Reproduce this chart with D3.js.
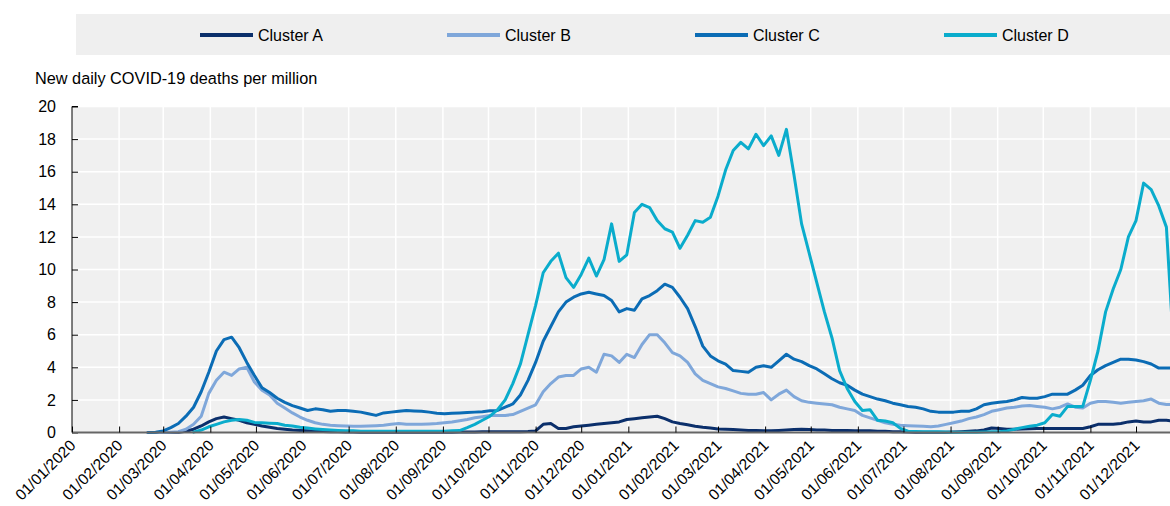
<!DOCTYPE html>
<html><head><meta charset="utf-8">
<script src="https://cdn.jsdelivr.net/npm/d3@7"></script>
<style>
body{margin:0;background:#fff;}
svg{display:block;font-family:"Liberation Sans", Arial, Helvetica, sans-serif;}
</style>
</head><body>
<svg id="chart" width="1170" height="506"></svg>
<script>
// ---------- DATA ----------
const seriesNames = ["Cluster A", "Cluster B", "Cluster C", "Cluster D"];
const startDate = "2020-02-20";   // first observation
const stepDays = 5;               // spacing of observations (days)

const clusterA = [0,0,0,0,0.02,0.08,0.2,0.4,0.65,0.85,0.95,0.85,0.75,0.6,0.5,0.4,0.32,0.25,0.2,0.15,
0.12,0.1,0.08,0.06,0.05,0.04,0.03,0.03,0.02,0.02,0.02,0.02,0.02,0.02,0.02,0.02,0.02,0.02,0.02,0.02,
0.02,0.03,0.03,0.03,0.04,0.04,0.05,0.05,0.05,0.05,0.06,0.1,0.5,0.55,0.25,0.25,0.35,0.4,0.45,0.5,
0.55,0.6,0.65,0.8,0.85,0.9,0.95,1.0,0.85,0.65,0.55,0.47,0.38,0.32,0.28,0.22,0.2,0.18,0.15,0.13,
0.12,0.1,0.1,0.12,0.15,0.18,0.2,0.18,0.15,0.15,0.13,0.12,0.12,0.1,0.1,0.1,0.08,0.07,0.05,0.04,
0.03,0.02,0.02,0.02,0.02,0.02,0.03,0.05,0.07,0.1,0.15,0.28,0.25,0.2,0.2,0.22,0.23,0.25,0.25,0.25,
0.25,0.25,0.25,0.25,0.35,0.5,0.5,0.5,0.55,0.65,0.7,0.65,0.65,0.75,0.75,0.7];

const clusterB = [0,0,0,0.02,0.05,0.2,0.5,1.0,2.4,3.2,3.7,3.5,3.9,4.0,3.1,2.6,2.3,1.8,1.5,1.2,
0.95,0.75,0.6,0.5,0.45,0.42,0.4,0.38,0.38,0.4,0.42,0.45,0.5,0.55,0.5,0.5,0.5,0.52,0.55,0.6,
0.65,0.72,0.8,0.9,0.97,1.05,1.05,1.05,1.1,1.3,1.5,1.7,2.5,3.0,3.4,3.5,3.5,3.9,4.0,3.7,
4.8,4.7,4.3,4.8,4.6,5.4,6.0,6.0,5.5,4.9,4.7,4.3,3.6,3.2,3.0,2.8,2.7,2.55,2.4,2.35,
2.35,2.45,2.0,2.35,2.6,2.2,1.95,1.85,1.8,1.75,1.7,1.55,1.45,1.35,1.05,0.9,0.75,0.6,0.5,0.45,
0.42,0.4,0.38,0.35,0.4,0.5,0.6,0.7,0.85,0.95,1.1,1.3,1.4,1.5,1.55,1.62,1.65,1.6,1.55,1.45,
1.55,1.75,1.55,1.5,1.8,1.9,1.9,1.85,1.8,1.85,1.9,1.95,2.05,1.8,1.72,1.7];

const clusterC = [0,0.02,0.1,0.3,0.55,1.0,1.55,2.5,3.7,5.0,5.7,5.85,5.2,4.3,3.5,2.75,2.45,2.1,1.85,1.65,
1.5,1.35,1.45,1.4,1.3,1.35,1.35,1.3,1.25,1.15,1.05,1.2,1.25,1.3,1.35,1.32,1.3,1.25,1.18,1.15,
1.18,1.2,1.22,1.25,1.28,1.33,1.35,1.55,1.75,2.3,3.2,4.3,5.6,6.5,7.4,8.0,8.3,8.5,8.6,8.5,
8.4,8.1,7.4,7.6,7.5,8.2,8.4,8.7,9.1,8.9,8.3,7.6,6.5,5.3,4.7,4.4,4.2,3.8,3.75,3.7,
4.0,4.1,4.0,4.4,4.8,4.5,4.35,4.1,3.9,3.6,3.3,3.05,2.9,2.6,2.35,2.2,2.05,1.95,1.8,1.7,
1.6,1.55,1.45,1.3,1.25,1.25,1.25,1.3,1.3,1.45,1.7,1.8,1.85,1.9,2.0,2.15,2.1,2.1,2.2,2.35,
2.35,2.35,2.6,2.9,3.5,3.85,4.1,4.3,4.5,4.5,4.45,4.35,4.2,3.95,3.95,3.95];

const clusterD = [null,null,null,null,null,null,0.02,0.15,0.35,0.5,0.65,0.75,0.8,0.75,0.62,0.6,0.57,0.55,0.45,0.4,
0.32,0.27,0.22,0.18,0.15,0.12,0.1,0.1,0.08,0.08,0.07,0.07,0.07,0.07,0.07,0.07,0.07,0.07,0.08,0.08,
0.1,0.12,0.3,0.5,0.75,1.0,1.4,2.0,3.0,4.2,6.0,7.8,9.8,10.5,11.0,9.5,8.9,9.7,10.7,9.6,
10.6,12.8,10.5,10.9,13.5,14.0,13.8,13.0,12.5,12.3,11.3,12.1,13.0,12.9,13.2,14.5,16.1,17.3,17.8,17.4,
18.3,17.6,18.2,17.0,18.6,15.8,12.8,11.0,9.2,7.4,5.8,3.8,2.7,1.9,1.35,1.4,0.75,0.7,0.6,0.25,
0.08,0.06,0.05,0.05,0.04,0.03,0.02,0.02,0.02,0.02,0.03,0.04,0.05,0.1,0.2,0.3,0.38,0.45,0.6,1.1,
1.0,1.6,1.6,1.6,3.2,5.0,7.4,8.8,10.0,12.0,13.0,15.3,14.9,13.9,12.6,4.8];

const seriesValues = [clusterA, clusterB, clusterC, clusterD];
const seriesColors = ["#0b2f6b", "#7fa7da", "#0b6cb5", "#0aaccc"];
const yTickValues = [0, 2, 4, 6, 8, 10, 12, 14, 16, 18, 20];
const yTitle = "New daily COVID-19 deaths per million";
const xDomain = ["2020-01-01", "2022-01-01"];

// ---------- BUILD ----------
(function () {
const parse = d3.timeParse("%Y-%m-%d");
const t0 = parse(startDate);
const dates = clusterA.map((_, i) => d3.timeDay.offset(t0, i * stepDays));

const svg = d3.select("#chart");
const pLeft = 72, pBottom = 432.5, pTop = 106.5, pRight = 1170;
const x = d3.scaleTime().domain(xDomain.map(parse)).range([pLeft, pLeft + 731 * 1.52]);
const y = d3.scaleLinear().domain([0, 20]).range([pBottom, pTop]);

// legend
svg.append("rect").attr("x", 76).attr("y", 14).attr("width", 1094).attr("height", 41).attr("fill", "#efefef");
const legX = [200, 447, 695, 944];
seriesNames.forEach((n, i) => {
  svg.append("line").attr("x1", legX[i]).attr("x2", legX[i] + 53).attr("y1", 35).attr("y2", 35)
    .attr("stroke", seriesColors[i]).attr("stroke-width", 4);
  svg.append("text").attr("x", legX[i] + 58).attr("y", 41).attr("font-size", 16).attr("fill", "#000").text(n);
});

// y title
svg.append("text").attr("x", 35).attr("y", 84).attr("font-size", 16.3).attr("fill", "#000").text(yTitle);

// plot background
svg.append("rect").attr("x", pLeft).attr("y", pTop).attr("width", pRight - pLeft).attr("height", pBottom - pTop).attr("fill", "#f0f0f0");

const monthTicks = d3.timeMonth.range(parse(xDomain[0]), parse(xDomain[1]));

// gridlines
svg.append("g").selectAll("line").data(yTickValues.slice(1)).join("line")
  .attr("x1", pLeft).attr("x2", pRight).attr("y1", d => y(d)).attr("y2", d => y(d))
  .attr("stroke", "#fff").attr("stroke-width", 1.5);
svg.append("g").selectAll("line").data(monthTicks.slice(1)).join("line")
  .attr("x1", d => x(d)).attr("x2", d => x(d)).attr("y1", pTop).attr("y2", pBottom)
  .attr("stroke", "#fff").attr("stroke-width", 1.5);

// lines
svg.append("clipPath").attr("id", "clip").append("rect")
  .attr("x", pLeft).attr("y", 0).attr("width", pRight - pLeft).attr("height", 506);
const lineGen = d3.line().defined(d => d.v !== null).x(d => x(d.date)).y(d => y(d.v));
const lg = svg.append("g").attr("clip-path", "url(#clip)");
seriesValues.forEach((vals, i) => {
  const pts = vals.map((v, j) => ({ date: dates[j], v }));
  lg.append("path").datum(pts).attr("d", lineGen).attr("fill", "none")
    .attr("stroke", seriesColors[i]).attr("stroke-width", 3)
    .attr("stroke-linejoin", "round").attr("stroke-linecap", "round");
});

// y axis
const yAxis = svg.append("g").attr("transform", `translate(${pLeft},0)`)
  .call(d3.axisLeft(y).tickValues(yTickValues).tickSize(-6).tickPadding(16));
yAxis.select(".domain").attr("stroke", "#000").attr("d", `M6,${pTop}H0V${pBottom}`);
yAxis.selectAll(".tick line").attr("stroke", "#000");
yAxis.selectAll(".tick text").attr("font-size", 16).attr("font-family", "Liberation Sans, Arial, sans-serif").attr("fill", "#000");

// x axis
const xAxis = svg.append("g").attr("transform", `translate(0,${pBottom})`)
  .call(d3.axisBottom(x).tickValues(monthTicks).tickSize(-6).tickFormat(d3.timeFormat("%d/%m/%Y")));
xAxis.select(".domain").attr("stroke", "#666").attr("stroke-width", 2).attr("d", `M${pLeft},0H${pRight}`);
xAxis.selectAll(".tick line").attr("stroke", "#000");
xAxis.selectAll(".tick text").attr("font-size", 15.5).attr("font-family", "Liberation Sans, Arial, sans-serif")
  .attr("fill", "#000").attr("text-anchor", "end").attr("dy", null).attr("y", null)
  .attr("transform", "translate(4,14) rotate(-45)");
})();
</script>
</body></html>
